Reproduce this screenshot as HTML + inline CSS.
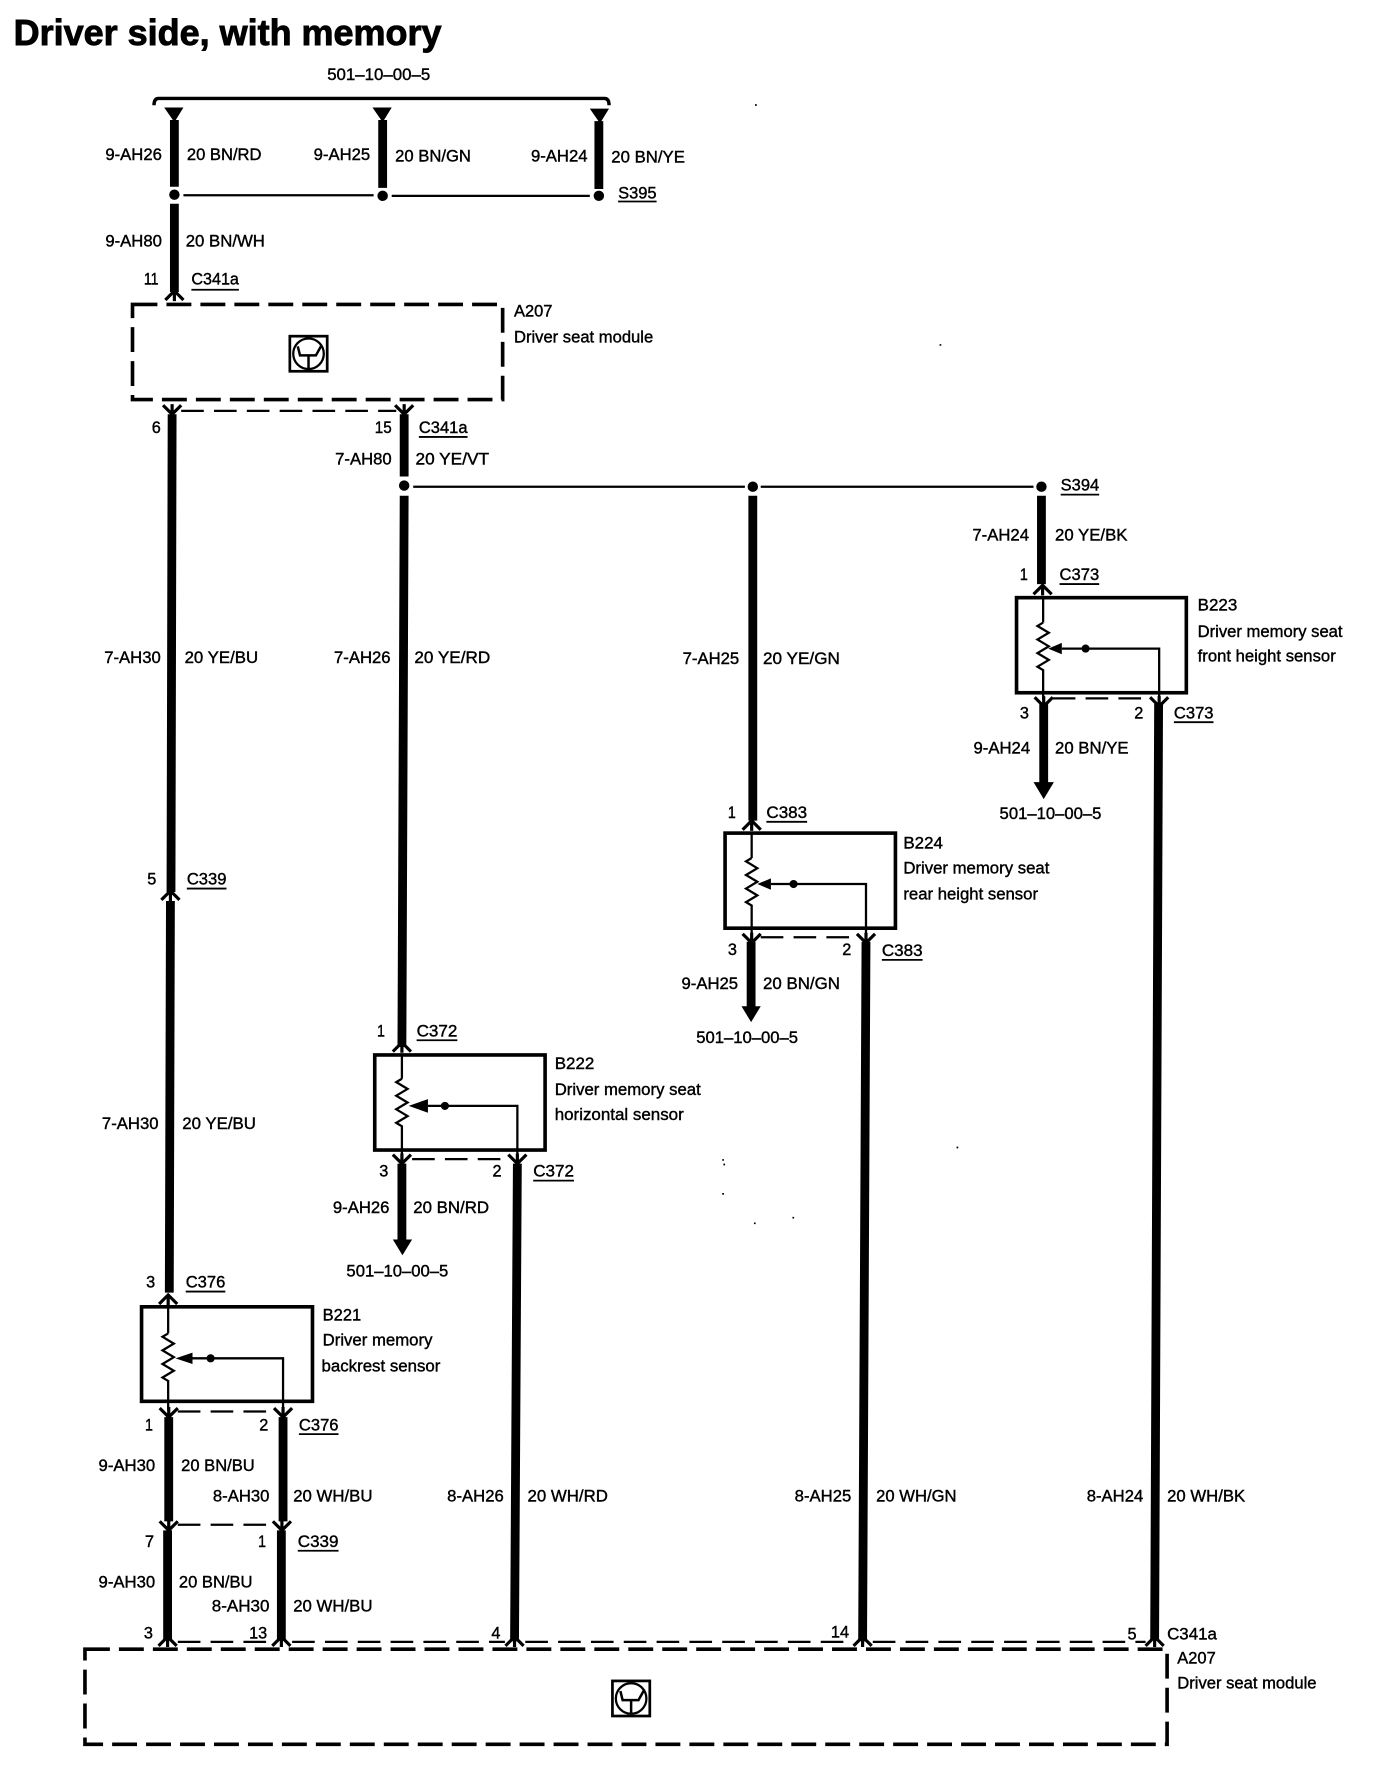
<!DOCTYPE html>
<html>
<head>
<meta charset="utf-8">
<style>
html,body{margin:0;padding:0;background:#fff}
svg{display:block;position:absolute;left:0;top:0}
text{font-family:"Liberation Sans",sans-serif;font-size:14.6px;fill:#000;stroke:#000;stroke-width:.35;dominant-baseline:central;transform:translateY(.7px)}
.t{font-size:32px;font-weight:bold;stroke-width:.8}
.w{fill:none;stroke:#000;stroke-width:7.8}
.n{fill:none;stroke:#000;stroke-width:2}
.c{fill:none;stroke:#000;stroke-width:2.4}
.b{fill:none;stroke:#000;stroke-width:3.2}
.d{fill:none;stroke:#000;stroke-width:3.2;stroke-dasharray:22 8}
.e{fill:none;stroke:#000;stroke-width:2;stroke-dasharray:20 9}
.u{stroke:#000;stroke-width:1.6}
</style>
</head>
<body>
<svg width="1376" height="1776" viewBox="0 0 1215.5 1569" xmlns="http://www.w3.org/2000/svg">
<defs>
<g id="up"><path d="M-8 8Q-3 3 0 0Q3 3 8 8M0 0V9" fill="none" stroke="#000" stroke-width="2.8"/></g>
<g id="dn"><path d="M-8 -8Q-3 -3 0 0Q3 -3 8 -8M0 0V-9" fill="none" stroke="#000" stroke-width="2.8"/></g>
<g id="sens">
<path d="M0 -30V-8M0 -8l-5 3l10 6l-10 6l10 6l-10 6l10 6l-10 6l5 3V60" fill="none" stroke="#000" stroke-width="2"/>
</g>
<g id="ico">
<rect x="1" y="1" width="33" height="31" fill="none" stroke="#000" stroke-width="2.4"/>
<ellipse cx="17.5" cy="16.5" rx="13.5" ry="13.5" fill="none" stroke="#000" stroke-width="2"/>
<path d="M8 10L10 18H24L29 9M17.5 18V30" fill="none" stroke="#000" stroke-width="2.2"/>
</g>
</defs>

<text class="t" x="12" y="28" textLength="378" lengthAdjust="spacingAndGlyphs">Driver side, with memory</text>

<!-- top bus -->
<text x="289" y="65" textLength="91" lengthAdjust="spacingAndGlyphs">501–10–00–5</text>
<path class="c" style="stroke-width:3" d="M136 93Q136 87 140 87H534Q538 87 538 93"/>
<path d="M145 95H162L154 108Z M329 95H346L338 108Z M521 96H538L530 109Z"/>
<path class="w" d="M154 106V165M338 106V166M529 107V167M154 180V258"/>
<circle cx="154" cy="172" r="4.6"/><circle cx="338" cy="173" r="4.6"/><circle cx="529" cy="173" r="4.6"/>
<path class="n" d="M162 172.500H330M346 173H521"/>
<text x="93" y="136" textLength="50" lengthAdjust="spacingAndGlyphs">9-AH26</text>
<text x="165" y="136" textLength="66" lengthAdjust="spacingAndGlyphs">20 BN/RD</text>
<text x="277" y="136" textLength="50" lengthAdjust="spacingAndGlyphs">9-AH25</text>
<text x="349" y="137" textLength="67" lengthAdjust="spacingAndGlyphs">20 BN/GN</text>
<text x="469" y="137" textLength="50" lengthAdjust="spacingAndGlyphs">9-AH24</text>
<text x="540" y="138" textLength="65" lengthAdjust="spacingAndGlyphs">20 BN/YE</text>
<text x="546" y="170" textLength="34" lengthAdjust="spacingAndGlyphs">S395</text>
<line class="u" x1="546" y1="178" x2="580" y2="178"/>
<text x="93" y="212" textLength="50" lengthAdjust="spacingAndGlyphs">9-AH80</text>
<text x="164" y="212" textLength="70" lengthAdjust="spacingAndGlyphs">20 BN/WH</text>
<text x="127" y="246" textLength="13" lengthAdjust="spacingAndGlyphs">11</text>
<text x="169" y="246" textLength="42" lengthAdjust="spacingAndGlyphs">C341a</text>
<line class="u" x1="169" y1="256" x2="211" y2="256"/>
<use href="#up" x="154" y="257"/>

<!-- upper module -->
<rect class="d" x="117" y="269" width="327" height="84"/>
<use href="#ico" x="255" y="296"/>
<text x="454" y="274" textLength="34" lengthAdjust="spacingAndGlyphs">A207</text>
<text x="454" y="297" textLength="123" lengthAdjust="spacingAndGlyphs">Driver seat module</text>
<use href="#dn" x="152" y="366"/><use href="#dn" x="357" y="366"/>
<path class="e" d="M160 363H350"/>
<text x="134" y="377" textLength="8" lengthAdjust="spacingAndGlyphs">6</text>
<text x="331" y="377" textLength="15" lengthAdjust="spacingAndGlyphs">15</text>
<text x="370" y="377" textLength="43" lengthAdjust="spacingAndGlyphs">C341a</text>
<line class="u" x1="370" y1="386" x2="413" y2="386"/>

<!-- left wires -->
<path class="w" d="M152 366L151 788M150.500 796L149.500 1142"/>
<use href="#up" x="150.500" y="787"/>
<text x="92" y="580" textLength="50" lengthAdjust="spacingAndGlyphs">7-AH30</text>
<text x="163" y="580" textLength="65" lengthAdjust="spacingAndGlyphs">20 YE/BU</text>
<text x="130" y="776" textLength="8" lengthAdjust="spacingAndGlyphs">5</text>
<text x="165" y="776" textLength="35" lengthAdjust="spacingAndGlyphs">C339</text>
<line class="u" x1="165" y1="785" x2="200" y2="785"/>
<text x="90" y="992" textLength="50" lengthAdjust="spacingAndGlyphs">7-AH30</text>
<text x="161" y="992" textLength="65" lengthAdjust="spacingAndGlyphs">20 YE/BU</text>
<text x="129" y="1132" textLength="8" lengthAdjust="spacingAndGlyphs">3</text>
<text x="164" y="1132" textLength="35" lengthAdjust="spacingAndGlyphs">C376</text>
<line class="u" x1="164" y1="1141" x2="199" y2="1141"/>

<!-- second column -->
<path class="w" d="M357 366V421M357 438L355 925"/>
<circle cx="357" cy="429" r="4.6"/>
<text x="296" y="405" textLength="50" lengthAdjust="spacingAndGlyphs">7-AH80</text>
<text x="367" y="405" textLength="65" lengthAdjust="spacingAndGlyphs">20 YE/VT</text>
<path class="n" d="M365 430H658M672 430H913"/>
<circle cx="665" cy="430" r="4.6"/><circle cx="920" cy="430" r="4.6"/>
<text x="937" y="428" textLength="34" lengthAdjust="spacingAndGlyphs">S394</text>
<line class="u" x1="937" y1="437" x2="971" y2="437"/>
<text x="295" y="580" textLength="50" lengthAdjust="spacingAndGlyphs">7-AH26</text>
<text x="366" y="580" textLength="67" lengthAdjust="spacingAndGlyphs">20 YE/RD</text>

<path class="w" d="M665 438V725M920 438V516"/>
<text x="603" y="581" textLength="50" lengthAdjust="spacingAndGlyphs">7-AH25</text>
<text x="674" y="581" textLength="68" lengthAdjust="spacingAndGlyphs">20 YE/GN</text>
<text x="859" y="472" textLength="50" lengthAdjust="spacingAndGlyphs">7-AH24</text>
<text x="932" y="472" textLength="64" lengthAdjust="spacingAndGlyphs">20 YE/BK</text>

<!-- B223 -->
<text x="901" y="507" textLength="7" lengthAdjust="spacingAndGlyphs">1</text>
<text x="936" y="507" textLength="35" lengthAdjust="spacingAndGlyphs">C373</text>
<line class="u" x1="936" y1="516" x2="971" y2="516"/>
<use href="#up" x="921" y="517"/>
<rect class="b" x="898" y="528" width="150" height="84"/>
<text x="1058" y="534" textLength="35" lengthAdjust="spacingAndGlyphs">B223</text>
<text x="1058" y="557" textLength="128" lengthAdjust="spacingAndGlyphs">Driver memory seat</text>
<text x="1058" y="579" textLength="122" lengthAdjust="spacingAndGlyphs">front height sensor</text>
<use href="#sens" x="921.500" y="558"/>
<path class="n" d="M938 573H1024V620"/>
<path d="M926 573L938 568V578Z"/><circle cx="959" cy="573" r="3.600"/>
<use href="#dn" x="922" y="624"/><use href="#dn" x="1024" y="624"/>
<path class="e" d="M930 617H1016"/>
<text x="901" y="629" textLength="8" lengthAdjust="spacingAndGlyphs">3</text>
<text x="1002" y="629" textLength="8" lengthAdjust="spacingAndGlyphs">2</text>
<text x="1037" y="629" textLength="35" lengthAdjust="spacingAndGlyphs">C373</text>
<line class="u" x1="1037" y1="638" x2="1072" y2="638"/>
<path class="w" d="M922 622V692M1023.500 622L1020 1448"/>
<path d="M913 691H931L922 706Z"/>
<text x="860" y="660" textLength="50" lengthAdjust="spacingAndGlyphs">9-AH24</text>
<text x="932" y="660" textLength="65" lengthAdjust="spacingAndGlyphs">20 BN/YE</text>
<text x="883" y="718" textLength="90" lengthAdjust="spacingAndGlyphs">501–10–00–5</text>

<!-- B224 -->
<text x="643" y="717" textLength="7" lengthAdjust="spacingAndGlyphs">1</text>
<text x="677" y="717" textLength="36" lengthAdjust="spacingAndGlyphs">C383</text>
<line class="u" x1="677" y1="726" x2="713" y2="726"/>
<use href="#up" x="664" y="725"/>
<rect class="b" x="640.500" y="736" width="150.500" height="84"/>
<text x="798" y="744" textLength="35" lengthAdjust="spacingAndGlyphs">B224</text>
<text x="798" y="766" textLength="129" lengthAdjust="spacingAndGlyphs">Driver memory seat</text>
<text x="798" y="789" textLength="119" lengthAdjust="spacingAndGlyphs">rear height sensor</text>
<use href="#sens" x="664" y="766"/>
<path class="n" d="M681 781H765V830"/>
<path d="M669 781L681 776V786Z"/><circle cx="701" cy="781" r="3.600"/>
<use href="#dn" x="664" y="833"/><use href="#dn" x="765" y="833"/>
<path class="e" d="M672 828H758"/>
<text x="643" y="838" textLength="8" lengthAdjust="spacingAndGlyphs">3</text>
<text x="744" y="838" textLength="8" lengthAdjust="spacingAndGlyphs">2</text>
<text x="779" y="839" textLength="36" lengthAdjust="spacingAndGlyphs">C383</text>
<line class="u" x1="779" y1="848" x2="815" y2="848"/>
<path class="w" d="M663.500 832V891M765 832L762 1450"/>
<path d="M655 889H672L663.500 903Z"/>
<text x="602" y="868" textLength="50" lengthAdjust="spacingAndGlyphs">9-AH25</text>
<text x="674" y="868" textLength="68" lengthAdjust="spacingAndGlyphs">20 BN/GN</text>
<text x="615" y="916" textLength="90" lengthAdjust="spacingAndGlyphs">501–10–00–5</text>

<!-- B222 -->
<text x="333" y="910" textLength="7" lengthAdjust="spacingAndGlyphs">1</text>
<text x="368" y="910" textLength="36" lengthAdjust="spacingAndGlyphs">C372</text>
<line class="u" x1="368" y1="919" x2="404" y2="919"/>
<use href="#up" x="355" y="921"/>
<rect class="b" x="331" y="932" width="150.500" height="84"/>
<text x="490" y="939" textLength="35" lengthAdjust="spacingAndGlyphs">B222</text>
<text x="490" y="962" textLength="129" lengthAdjust="spacingAndGlyphs">Driver memory seat</text>
<text x="490" y="984" textLength="114" lengthAdjust="spacingAndGlyphs">horizontal sensor</text>
<use href="#sens" x="355" y="961"/>
<path class="n" d="M378 977H457V1026"/>
<path d="M361 977L378 971V983Z"/><circle cx="393" cy="977" r="3.600"/>
<use href="#dn" x="355" y="1028"/><use href="#dn" x="457" y="1028"/>
<path class="e" d="M364 1024H450"/>
<text x="335" y="1034" textLength="8" lengthAdjust="spacingAndGlyphs">3</text>
<text x="435" y="1034" textLength="8" lengthAdjust="spacingAndGlyphs">2</text>
<text x="471" y="1034" textLength="36" lengthAdjust="spacingAndGlyphs">C372</text>
<line class="u" x1="471" y1="1043" x2="507" y2="1043"/>
<path class="w" d="M355 1028V1097M457 1028L454.500 1450"/>
<path d="M347 1095H364L355.500 1109Z"/>
<text x="294" y="1066" textLength="50" lengthAdjust="spacingAndGlyphs">9-AH26</text>
<text x="365" y="1066" textLength="67" lengthAdjust="spacingAndGlyphs">20 BN/RD</text>
<text x="306" y="1122" textLength="90" lengthAdjust="spacingAndGlyphs">501–10–00–5</text>

<!-- B221 -->
<use href="#up" x="148.500" y="1144"/>
<rect class="b" x="125" y="1154.500" width="151" height="83.500"/>
<text x="285" y="1161" textLength="34" lengthAdjust="spacingAndGlyphs">B221</text>
<text x="285" y="1183" textLength="97" lengthAdjust="spacingAndGlyphs">Driver memory</text>
<text x="284" y="1206" textLength="105" lengthAdjust="spacingAndGlyphs">backrest sensor</text>
<use href="#sens" x="148.500" y="1186"/>
<path class="n" d="M170 1200H250V1248"/>
<path d="M155 1200L170 1195V1205Z"/><circle cx="186" cy="1200" r="3.600"/>
<use href="#dn" x="149" y="1252"/><use href="#dn" x="250" y="1252"/>
<path class="e" d="M157 1247H243"/>
<text x="128" y="1258" textLength="7" lengthAdjust="spacingAndGlyphs">1</text>
<text x="229" y="1258" textLength="8" lengthAdjust="spacingAndGlyphs">2</text>
<text x="264" y="1258" textLength="35" lengthAdjust="spacingAndGlyphs">C376</text>
<line class="u" x1="264" y1="1267" x2="299" y2="1267"/>
<path class="w" d="M149 1252V1344M250 1252V1344M148 1352V1449M248.500 1352V1449"/>
<text x="87" y="1294" textLength="50" lengthAdjust="spacingAndGlyphs">9-AH30</text>
<text x="160" y="1294" textLength="65" lengthAdjust="spacingAndGlyphs">20 BN/BU</text>
<text x="188" y="1321" textLength="50" lengthAdjust="spacingAndGlyphs">8-AH30</text>
<text x="259" y="1321" textLength="70" lengthAdjust="spacingAndGlyphs">20 WH/BU</text>
<use href="#dn" x="149" y="1352"/><use href="#dn" x="249" y="1352"/>
<path class="e" d="M157 1347H243"/>
<text x="128" y="1361" textLength="8" lengthAdjust="spacingAndGlyphs">7</text>
<text x="228" y="1361" textLength="7" lengthAdjust="spacingAndGlyphs">1</text>
<text x="263" y="1361" textLength="36" lengthAdjust="spacingAndGlyphs">C339</text>
<line class="u" x1="263" y1="1370" x2="299" y2="1370"/>
<text x="87" y="1397" textLength="50" lengthAdjust="spacingAndGlyphs">9-AH30</text>
<text x="158" y="1397" textLength="65" lengthAdjust="spacingAndGlyphs">20 BN/BU</text>
<text x="187" y="1418" textLength="51" lengthAdjust="spacingAndGlyphs">8-AH30</text>
<text x="259" y="1418" textLength="70" lengthAdjust="spacingAndGlyphs">20 WH/BU</text>

<text x="395" y="1321" textLength="50" lengthAdjust="spacingAndGlyphs">8-AH26</text>
<text x="466" y="1321" textLength="71" lengthAdjust="spacingAndGlyphs">20 WH/RD</text>
<text x="702" y="1321" textLength="50" lengthAdjust="spacingAndGlyphs">8-AH25</text>
<text x="774" y="1321" textLength="71" lengthAdjust="spacingAndGlyphs">20 WH/GN</text>
<text x="960" y="1321" textLength="50" lengthAdjust="spacingAndGlyphs">8-AH24</text>
<text x="1031" y="1321" textLength="69" lengthAdjust="spacingAndGlyphs">20 WH/BK</text>

<!-- bottom connectors -->
<text x="127" y="1442" textLength="8" lengthAdjust="spacingAndGlyphs">3</text>
<text x="220" y="1442" textLength="16" lengthAdjust="spacingAndGlyphs">13</text>
<text x="434" y="1442" textLength="8" lengthAdjust="spacingAndGlyphs">4</text>
<text x="734" y="1441" textLength="16" lengthAdjust="spacingAndGlyphs">14</text>
<text x="996" y="1443" textLength="8" lengthAdjust="spacingAndGlyphs">5</text>
<text x="1031" y="1443" textLength="44" lengthAdjust="spacingAndGlyphs">C341a</text>
<use href="#up" x="148" y="1446"/><use href="#up" x="248.500" y="1446"/><use href="#up" x="454.500" y="1446"/><use href="#up" x="762" y="1446"/><use href="#up" x="1020" y="1446"/>
<path class="e" d="M157 1450.500H240M258 1450.500H446M464 1450.500H753M771 1450.500H1012"/>
<rect class="d" x="75" y="1457" width="956" height="84"/>
<use href="#ico" x="540" y="1484"/>
<text x="1040" y="1464" textLength="34" lengthAdjust="spacingAndGlyphs">A207</text>
<text x="1040" y="1486" textLength="123" lengthAdjust="spacingAndGlyphs">Driver seat module</text>

<!-- scan speckles -->
<path d="M667 92h1.500v1.500h-1.500zM638 1024h1.500v1.500h-1.500zM639 1028h1.500v1.500h-1.500zM638 1054h1.500v1.500h-1.500zM700 1075h1.500v1.500h-1.500zM666 1080h1.500v1.500h-1.500zM830 304h1.500v1.500h-1.500zM845 1013h1.500v1.500h-1.500z"/>
</svg>
</body>
</html>
